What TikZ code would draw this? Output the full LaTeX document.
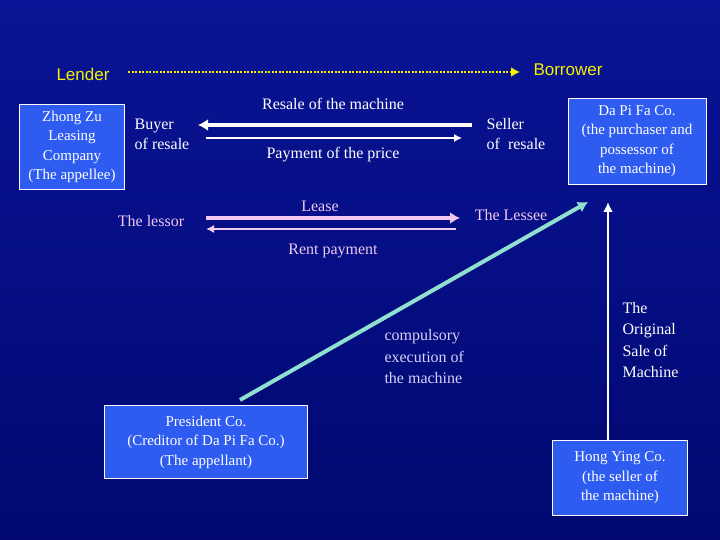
\documentclass[tikz,border=0pt]{standalone}
\usepackage{fontspec}
\setmainfont{Liberation Serif}
\newfontfamily\sansf{Liberation Sans}
\usetikzlibrary{arrows.meta}
\definecolor{bgA}{HTML}{0A1496}
\definecolor{bgB}{HTML}{000870}
\definecolor{boxc}{HTML}{2F5CF0}
\definecolor{ylw}{HTML}{F4F000}
\definecolor{pnk}{HTML}{F0C8F0}
\definecolor{cyn}{HTML}{90E0D0}
\definecolor{lil}{HTML}{D8D0F8}
\begin{document}
\begin{tikzpicture}[x=1pt,y=-1pt,
  box/.style={draw=white,line width=0.8pt,fill=boxc,text=white,align=center,font=\fontsize{15}{19.5}\selectfont,inner sep=2pt},
  lbl/.style={text=white,font=\fontsize{16}{20}\selectfont,align=left},
  plbl/.style={text=pnk,font=\fontsize{16}{18}\selectfont},
  yl/.style={text=ylw,font=\sansf\fontsize{17}{18}\selectfont}]
\shade[top color=bgA,bottom color=bgB] (0,0) rectangle (720,540);
\useasboundingbox (0,0) rectangle (720,540);
\node[yl] (lender) at (83,74) {Lender};
\node[yl] (borrower) at (568,70) {Borrower};
\coordinate (ls) at (128,72); \coordinate (le) at (520,72);
\draw[ylw,line width=2.5pt,dash pattern=on 2pt off 1.5pt,-{Latex[length=9pt,width=10pt]}] (ls) -- (le);
\node[box,minimum width=105pt,minimum height=85pt] (zz) at (72,147) {Zhong Zu\\Leasing\\Company\\(The appellee)};
\node[box,minimum width=138pt,minimum height=86pt] (dp) at (637,141) {Da Pi Fa Co.\\(the purchaser and\\possessor of\\the machine)};
\node[box,minimum width=203pt,minimum height=73pt] (pc) at (206,442) {President Co.\\(Creditor of Da Pi Fa Co.)\\(The appellant)};
\node[box,minimum width=135pt,minimum height=75pt] (hy) at (620,478) {Hong Ying Co.\\(the seller of\\the machine)};
\node[lbl] (buyer) at (162,134) {Buyer\\of resale};
\node[lbl] (seller) at (516,134) {Seller\\of\ \ resale};
\node[lbl] (resale) at (333,104) {Resale of the machine};
\node[lbl] (payment) at (333,155) {Payment of the price};
\coordinate (r1) at (472,125); \coordinate (r2) at (198,125);
\draw[white,line width=3.5pt,-{Latex[length=10pt,width=12pt]}] (r1) -- (r2);
\coordinate (p1) at (206,138); \coordinate (p2) at (462,138);
\draw[white,line width=1.2pt,-{Latex[length=8pt,width=8pt]}] (p1) -- (p2);
\node[plbl] (lease) at (320,206) {Lease};
\node[plbl] (lessor) at (151,221) {The lessor};
\node[plbl] (lessee) at (511,215) {The Lessee};
\node[plbl] (rent) at (333,251) {Rent payment};
\coordinate (l1) at (206,218); \coordinate (l2) at (460,218);
\draw[pnk,line width=3.5pt,-{Latex[length=10pt,width=12pt]}] (l1) -- (l2);
\coordinate (m1) at (456,229); \coordinate (m2) at (206,229);
\draw[pnk,line width=1.5pt,-{Latex[length=8pt,width=8pt]}] (m1) -- (m2);
\coordinate (c1) at (240,400); \coordinate (c2) at (588,202);
\draw[cyn,line width=4pt,-{Latex[length=10pt,width=12pt]}] (c1) -- (c2);
\draw[white,line width=2.5pt,-{Latex[length=10pt,width=10pt]}] (hy.north-|608,0) -- (608,202);
\node[text=lil,font=\fontsize{16}{21.5}\selectfont,align=left,anchor=west] (comp) at (381,357) {compulsory\\execution of\\the machine};
\node[text=white,font=\fontsize{16}{21.5}\selectfont,align=left,anchor=west] (orig) at (619,340) {The\\Original\\Sale of\\Machine};
\end{tikzpicture}
\end{document}
